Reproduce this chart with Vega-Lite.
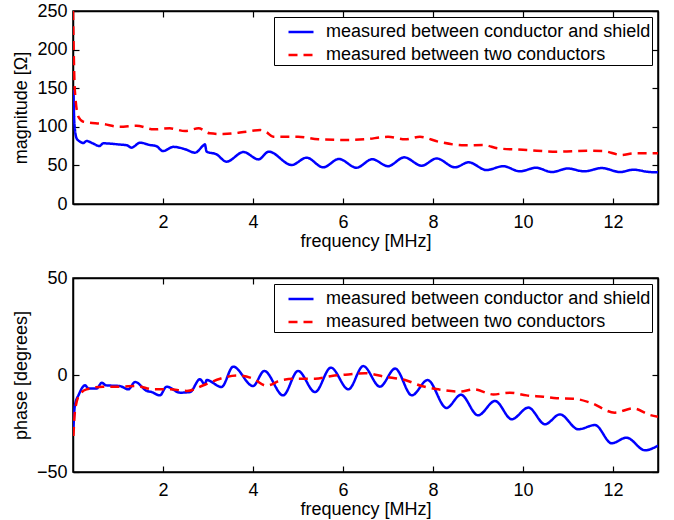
{
  "$schema": "https://vega.github.io/schema/vega-lite/v6.json",
  "background": "white",
  "padding": {"left": 11, "top": 1, "right": 10, "bottom": 2},
  "config": {
    "font": "Liberation Sans",
    "view": {"stroke": "black", "strokeWidth": 1.5},
    "axis": {
      "grid": false,
      "domainColor": "black",
      "domainWidth": 1.5,
      "ticks": true,
      "tickColor": "black",
      "tickSize": -6,
      "tickWidth": 1.2,
      "labelColor": "black",
      "labelFontSize": 18,
      "titleColor": "black",
      "titleFontSize": 18,
      "titleFontWeight": "normal",
      "zindex": 1
    },
    "axisX": {"labelPadding": 15},
    "axisY": {"labelPadding": 12},
    "legend": {
      "orient": "top-right",
      "offset": 6,
      "title": null,
      "strokeColor": "black",
      "fillColor": "white",
      "padding": 1,
      "symbolOffset": 12,
      "labelFontSize": 18,
      "labelColor": "black",
      "labelOffset": 11,
      "labelLimit": 600,
      "symbolType": "stroke",
      "symbolSize": 625,
      "symbolStrokeWidth": 2.5,
      "rowPadding": -5
    }
  },
  "datasets": {
    "mag": [
      {"f": 0.01, "v": 148, "s": "measured between conductor and shield"},
      {"f": 0.03, "v": 105, "s": "measured between conductor and shield"},
      {"f": 0.08, "v": 85, "s": "measured between conductor and shield"},
      {"f": 0.15, "v": 81, "s": "measured between conductor and shield"},
      {"f": 0.23, "v": 79, "s": "measured between conductor and shield"},
      {"f": 0.3, "v": 81.6, "s": "measured between conductor and shield"},
      {"f": 0.44, "v": 78.6, "s": "measured between conductor and shield"},
      {"f": 0.59, "v": 75, "s": "measured between conductor and shield"},
      {"f": 0.67, "v": 78.6, "s": "measured between conductor and shield"},
      {"f": 1.04, "v": 77, "s": "measured between conductor and shield"},
      {"f": 1.2, "v": 76, "s": "measured between conductor and shield"},
      {"f": 1.3, "v": 73, "s": "measured between conductor and shield"},
      {"f": 1.49, "v": 79.4, "s": "measured between conductor and shield"},
      {"f": 1.71, "v": 76.4, "s": "measured between conductor and shield"},
      {"f": 1.85, "v": 75, "s": "measured between conductor and shield"},
      {"f": 2.0, "v": 68.6, "s": "measured between conductor and shield"},
      {"f": 2.23, "v": 74, "s": "measured between conductor and shield"},
      {"f": 2.49, "v": 71, "s": "measured between conductor and shield"},
      {"f": 2.71, "v": 66.5, "s": "measured between conductor and shield"},
      {"f": 2.9, "v": 76, "s": "measured between conductor and shield"},
      {"f": 2.93, "v": 77.3, "s": "measured between conductor and shield"},
      {"f": 2.97, "v": 67.8, "s": "measured between conductor and shield"},
      {"f": 3.19, "v": 64.3, "s": "measured between conductor and shield"},
      {"f": 3.41, "v": 54.8, "s": "measured between conductor and shield"},
      {"f": 3.79, "v": 67.3, "s": "measured between conductor and shield"},
      {"f": 4.12, "v": 57.8, "s": "measured between conductor and shield"},
      {"f": 4.35, "v": 67.8, "s": "measured between conductor and shield"},
      {"f": 4.86, "v": 50.5, "s": "measured between conductor and shield"},
      {"f": 5.19, "v": 60, "s": "measured between conductor and shield"},
      {"f": 5.56, "v": 47.5, "s": "measured between conductor and shield"},
      {"f": 5.91, "v": 58.3, "s": "measured between conductor and shield"},
      {"f": 6.3, "v": 47, "s": "measured between conductor and shield"},
      {"f": 6.65, "v": 58, "s": "measured between conductor and shield"},
      {"f": 7.0, "v": 49, "s": "measured between conductor and shield"},
      {"f": 7.36, "v": 60.4, "s": "measured between conductor and shield"},
      {"f": 7.75, "v": 49.6, "s": "measured between conductor and shield"},
      {"f": 8.08, "v": 59, "s": "measured between conductor and shield"},
      {"f": 8.49, "v": 47.5, "s": "measured between conductor and shield"},
      {"f": 8.79, "v": 54, "s": "measured between conductor and shield"},
      {"f": 9.19, "v": 44, "s": "measured between conductor and shield"},
      {"f": 9.56, "v": 49, "s": "measured between conductor and shield"},
      {"f": 9.93, "v": 42.3, "s": "measured between conductor and shield"},
      {"f": 10.29, "v": 47, "s": "measured between conductor and shield"},
      {"f": 10.64, "v": 41.4, "s": "measured between conductor and shield"},
      {"f": 11.0, "v": 46, "s": "measured between conductor and shield"},
      {"f": 11.36, "v": 42.3, "s": "measured between conductor and shield"},
      {"f": 11.75, "v": 46.6, "s": "measured between conductor and shield"},
      {"f": 12.16, "v": 41.4, "s": "measured between conductor and shield"},
      {"f": 12.45, "v": 44.4, "s": "measured between conductor and shield"},
      {"f": 12.8, "v": 41.5, "s": "measured between conductor and shield"},
      {"f": 13.0, "v": 41, "s": "measured between conductor and shield"},
      {"f": 0.0, "v": 250, "s": "measured between two conductors"},
      {"f": 0.04, "v": 148, "s": "measured between two conductors"},
      {"f": 0.12, "v": 113, "s": "measured between two conductors"},
      {"f": 0.23, "v": 106.6, "s": "measured between two conductors"},
      {"f": 0.67, "v": 103.6, "s": "measured between two conductors"},
      {"f": 1.04, "v": 100, "s": "measured between two conductors"},
      {"f": 1.41, "v": 101.4, "s": "measured between two conductors"},
      {"f": 1.79, "v": 96.7, "s": "measured between two conductors"},
      {"f": 2.15, "v": 98, "s": "measured between two conductors"},
      {"f": 2.49, "v": 94.5, "s": "measured between two conductors"},
      {"f": 2.79, "v": 98, "s": "measured between two conductors"},
      {"f": 3.04, "v": 91.5, "s": "measured between two conductors"},
      {"f": 3.34, "v": 90.6, "s": "measured between two conductors"},
      {"f": 3.86, "v": 93.7, "s": "measured between two conductors"},
      {"f": 4.16, "v": 95.8, "s": "measured between two conductors"},
      {"f": 4.3, "v": 93, "s": "measured between two conductors"},
      {"f": 4.45, "v": 87, "s": "measured between two conductors"},
      {"f": 5.0, "v": 87, "s": "measured between two conductors"},
      {"f": 5.45, "v": 83.8, "s": "measured between two conductors"},
      {"f": 6.12, "v": 83, "s": "measured between two conductors"},
      {"f": 6.49, "v": 83.8, "s": "measured between two conductors"},
      {"f": 7.0, "v": 87, "s": "measured between two conductors"},
      {"f": 7.38, "v": 83.8, "s": "measured between two conductors"},
      {"f": 7.71, "v": 87, "s": "measured between two conductors"},
      {"f": 8.12, "v": 80.7, "s": "measured between two conductors"},
      {"f": 8.71, "v": 76, "s": "measured between two conductors"},
      {"f": 9.12, "v": 76.4, "s": "measured between two conductors"},
      {"f": 9.45, "v": 72, "s": "measured between two conductors"},
      {"f": 10.08, "v": 70, "s": "measured between two conductors"},
      {"f": 10.75, "v": 67.8, "s": "measured between two conductors"},
      {"f": 11.42, "v": 69, "s": "measured between two conductors"},
      {"f": 11.78, "v": 68.6, "s": "measured between two conductors"},
      {"f": 12.19, "v": 63.5, "s": "measured between two conductors"},
      {"f": 12.45, "v": 65.6, "s": "measured between two conductors"},
      {"f": 13.0, "v": 65.6, "s": "measured between two conductors"}
    ],
    "phase": [
      {"f": 0.01, "v": -27, "s": "measured between conductor and shield"},
      {"f": 0.04, "v": -16, "s": "measured between conductor and shield"},
      {"f": 0.13, "v": -10, "s": "measured between conductor and shield"},
      {"f": 0.27, "v": -5.3, "s": "measured between conductor and shield"},
      {"f": 0.34, "v": -6.9, "s": "measured between conductor and shield"},
      {"f": 0.53, "v": -6.9, "s": "measured between conductor and shield"},
      {"f": 0.64, "v": -4, "s": "measured between conductor and shield"},
      {"f": 0.73, "v": -5.3, "s": "measured between conductor and shield"},
      {"f": 1.04, "v": -5.7, "s": "measured between conductor and shield"},
      {"f": 1.23, "v": -7.4, "s": "measured between conductor and shield"},
      {"f": 1.38, "v": -3.6, "s": "measured between conductor and shield"},
      {"f": 1.64, "v": -8.2, "s": "measured between conductor and shield"},
      {"f": 1.75, "v": -8.8, "s": "measured between conductor and shield"},
      {"f": 1.93, "v": -10.5, "s": "measured between conductor and shield"},
      {"f": 2.08, "v": -6, "s": "measured between conductor and shield"},
      {"f": 2.38, "v": -9.1, "s": "measured between conductor and shield"},
      {"f": 2.6, "v": -8.8, "s": "measured between conductor and shield"},
      {"f": 2.82, "v": -2.2, "s": "measured between conductor and shield"},
      {"f": 2.93, "v": -4.8, "s": "measured between conductor and shield"},
      {"f": 2.97, "v": -2.6, "s": "measured between conductor and shield"},
      {"f": 3.3, "v": -6.2, "s": "measured between conductor and shield"},
      {"f": 3.56, "v": 4.3, "s": "measured between conductor and shield"},
      {"f": 4.0, "v": -5.7, "s": "measured between conductor and shield"},
      {"f": 4.25, "v": 2.1, "s": "measured between conductor and shield"},
      {"f": 4.67, "v": -10.5, "s": "measured between conductor and shield"},
      {"f": 5.0, "v": 2.1, "s": "measured between conductor and shield"},
      {"f": 5.38, "v": -8.8, "s": "measured between conductor and shield"},
      {"f": 5.73, "v": 3.8, "s": "measured between conductor and shield"},
      {"f": 6.12, "v": -7.4, "s": "measured between conductor and shield"},
      {"f": 6.45, "v": 4.6, "s": "measured between conductor and shield"},
      {"f": 6.82, "v": -6, "s": "measured between conductor and shield"},
      {"f": 7.16, "v": 3.3, "s": "measured between conductor and shield"},
      {"f": 7.53, "v": -10.5, "s": "measured between conductor and shield"},
      {"f": 7.88, "v": -2.6, "s": "measured between conductor and shield"},
      {"f": 8.3, "v": -17, "s": "measured between conductor and shield"},
      {"f": 8.62, "v": -10.2, "s": "measured between conductor and shield"},
      {"f": 9.0, "v": -20.8, "s": "measured between conductor and shield"},
      {"f": 9.38, "v": -13.4, "s": "measured between conductor and shield"},
      {"f": 9.75, "v": -22.8, "s": "measured between conductor and shield"},
      {"f": 10.12, "v": -16.8, "s": "measured between conductor and shield"},
      {"f": 10.49, "v": -25.4, "s": "measured between conductor and shield"},
      {"f": 10.82, "v": -20.3, "s": "measured between conductor and shield"},
      {"f": 11.23, "v": -28, "s": "measured between conductor and shield"},
      {"f": 11.6, "v": -25.8, "s": "measured between conductor and shield"},
      {"f": 11.97, "v": -35.2, "s": "measured between conductor and shield"},
      {"f": 12.3, "v": -32.3, "s": "measured between conductor and shield"},
      {"f": 12.71, "v": -38.8, "s": "measured between conductor and shield"},
      {"f": 13.0, "v": -36.4, "s": "measured between conductor and shield"},
      {"f": 0.01, "v": -31.4, "s": "measured between two conductors"},
      {"f": 0.04, "v": -19.4, "s": "measured between two conductors"},
      {"f": 0.13, "v": -10.8, "s": "measured between two conductors"},
      {"f": 0.3, "v": -7.4, "s": "measured between two conductors"},
      {"f": 0.67, "v": -6, "s": "measured between two conductors"},
      {"f": 1.04, "v": -6, "s": "measured between two conductors"},
      {"f": 1.41, "v": -5.7, "s": "measured between two conductors"},
      {"f": 1.79, "v": -7.4, "s": "measured between two conductors"},
      {"f": 2.16, "v": -7.4, "s": "measured between two conductors"},
      {"f": 2.53, "v": -8.2, "s": "measured between two conductors"},
      {"f": 2.9, "v": -5.3, "s": "measured between two conductors"},
      {"f": 3.27, "v": -1.9, "s": "measured between two conductors"},
      {"f": 3.64, "v": -0.2, "s": "measured between two conductors"},
      {"f": 4.0, "v": -1.9, "s": "measured between two conductors"},
      {"f": 4.3, "v": -5.5, "s": "measured between two conductors"},
      {"f": 4.64, "v": -2.6, "s": "measured between two conductors"},
      {"f": 5.0, "v": -1.9, "s": "measured between two conductors"},
      {"f": 5.38, "v": -1.9, "s": "measured between two conductors"},
      {"f": 5.75, "v": -0.5, "s": "measured between two conductors"},
      {"f": 6.12, "v": 0.3, "s": "measured between two conductors"},
      {"f": 6.49, "v": 0.9, "s": "measured between two conductors"},
      {"f": 6.93, "v": -0.9, "s": "measured between two conductors"},
      {"f": 7.38, "v": -2.6, "s": "measured between two conductors"},
      {"f": 7.75, "v": -5.7, "s": "measured between two conductors"},
      {"f": 8.12, "v": -7.4, "s": "measured between two conductors"},
      {"f": 8.6, "v": -8.6, "s": "measured between two conductors"},
      {"f": 8.9, "v": -7.4, "s": "measured between two conductors"},
      {"f": 9.34, "v": -10, "s": "measured between two conductors"},
      {"f": 9.71, "v": -9.1, "s": "measured between two conductors"},
      {"f": 10.08, "v": -10.5, "s": "measured between two conductors"},
      {"f": 10.45, "v": -11.2, "s": "measured between two conductors"},
      {"f": 10.75, "v": -12, "s": "measured between two conductors"},
      {"f": 11.12, "v": -12.2, "s": "measured between two conductors"},
      {"f": 11.49, "v": -14.2, "s": "measured between two conductors"},
      {"f": 12.04, "v": -19.4, "s": "measured between two conductors"},
      {"f": 12.45, "v": -17.2, "s": "measured between two conductors"},
      {"f": 12.82, "v": -20.6, "s": "measured between two conductors"},
      {"f": 13.0, "v": -21.5, "s": "measured between two conductors"}
    ]
  },
  "resolve": {"scale": {"color": "independent", "strokeDash": "independent"}},
  "spacing": 17,
  "vconcat": [
    {
      "width": 585,
      "height": 193,
      "data": {"name": "mag"},
      "resolve": {"axis": {"x": "independent", "y": "independent"}},
      "layer": [
        {
          "mark": {"type": "line", "strokeWidth": 2.5, "interpolate": "monotone", "clip": true},
          "encoding": {
            "x": {"field": "f", "type": "quantitative", "scale": {"domain": [0, 13], "nice": false},
                  "axis": {"title": "frequency [MHz]", "values": [2, 4, 6, 8, 10, 12], "titlePadding": 1}},
            "y": {"field": "v", "type": "quantitative", "scale": {"domain": [0, 250], "nice": false},
                  "axis": {"title": "magnitude [Ω]", "values": [0, 50, 100, 150, 200, 250], "titlePadding": 6}},
            "color": {"field": "s", "type": "nominal",
                      "scale": {"domain": ["measured between conductor and shield", "measured between two conductors"], "range": ["#0000ff", "#ff0000"]},
                      "legend": {"labelExpr": "datum.label + '\u00a0\u00a0\u00a0'"}},
            "strokeDash": {"field": "s", "type": "nominal",
                      "scale": {"domain": ["measured between conductor and shield", "measured between two conductors"], "range": [[1, 0], [9, 6]]},
                      "legend": {"labelExpr": "datum.label + '\u00a0\u00a0\u00a0'"}}
          }
        },
        {
          "mark": {"type": "point", "opacity": 0},
          "encoding": {
            "x": {"field": "f", "type": "quantitative", "axis": {"orient": "top", "labels": false, "title": null, "values": [2, 4, 6, 8, 10, 12]}},
            "y": {"field": "v", "type": "quantitative", "axis": {"orient": "right", "labels": false, "title": null, "values": [0, 50, 100, 150, 200, 250]}}
          }
        }
      ]
    },
    {
      "width": 585,
      "height": 194,
      "data": {"name": "phase"},
      "resolve": {"axis": {"x": "independent", "y": "independent"}},
      "layer": [
        {
          "mark": {"type": "line", "strokeWidth": 2.5, "interpolate": "monotone", "clip": true},
          "encoding": {
            "x": {"field": "f", "type": "quantitative", "scale": {"domain": [0, 13], "nice": false},
                  "axis": {"title": "frequency [MHz]", "values": [2, 4, 6, 8, 10, 12], "titlePadding": 1}},
            "y": {"field": "v", "type": "quantitative", "scale": {"domain": [-50, 50], "nice": false},
                  "axis": {"title": "phase [degrees]", "values": [-50, 0, 50], "titlePadding": 6}},
            "color": {"field": "s", "type": "nominal",
                      "scale": {"domain": ["measured between conductor and shield", "measured between two conductors"], "range": ["#0000ff", "#ff0000"]},
                      "legend": {"labelExpr": "datum.label + '\u00a0\u00a0\u00a0'"}},
            "strokeDash": {"field": "s", "type": "nominal",
                      "scale": {"domain": ["measured between conductor and shield", "measured between two conductors"], "range": [[1, 0], [9, 6]]},
                      "legend": {"labelExpr": "datum.label + '\u00a0\u00a0\u00a0'"}}
          }
        },
        {
          "mark": {"type": "point", "opacity": 0},
          "encoding": {
            "x": {"field": "f", "type": "quantitative", "axis": {"orient": "top", "labels": false, "title": null, "values": [2, 4, 6, 8, 10, 12]}},
            "y": {"field": "v", "type": "quantitative", "axis": {"orient": "right", "labels": false, "title": null, "values": [-50, 0, 50]}}
          }
        }
      ]
    }
  ]
}
